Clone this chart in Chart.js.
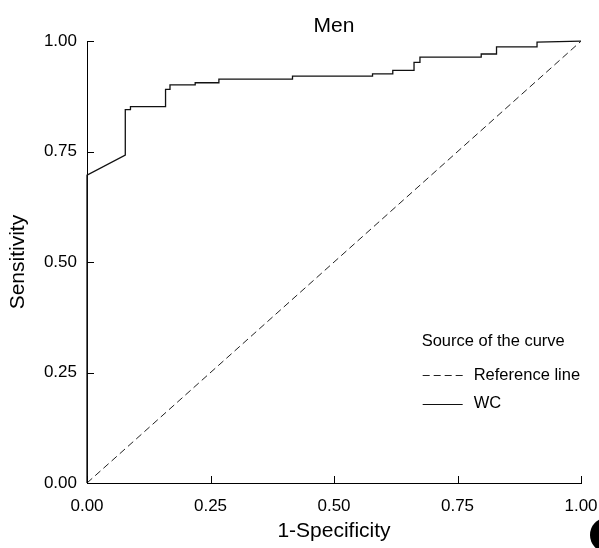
<!DOCTYPE html>
<html>
<head>
<meta charset="utf-8">
<script src="https://cdn.jsdelivr.net/npm/chart.js@4.4.1/dist/chart.umd.min.js"></script>
<style>
html,body{margin:0;padding:0;background:#fff;}
#wrap{width:599px;height:548px;}
</style>
</head>
<body>
<div id="wrap"><canvas id="c" width="599" height="548"></canvas></div>
<script>
// ---- data ----
const chartTitle = "Men";
const xAxisTitle = "1-Specificity";
const yAxisTitle = "Sensitivity";
const legendTitle = "Source of the curve";
const tickValues = [0, 0.25, 0.5, 0.75, 1];
const tickLabels = ["0.00", "0.25", "0.50", "0.75", "1.00"];
const refLabel = "Reference line";
const refX = [0, 1];
const refY = [0, 1];
const wcLabel = "WC";
const wcX = [0, 0, 0.0775, 0.0775, 0.088, 0.088, 0.159, 0.159, 0.168, 0.168, 0.219, 0.219, 0.267, 0.267, 0.416, 0.416, 0.578, 0.578, 0.619, 0.619, 0.662, 0.662, 0.674, 0.674, 0.798, 0.798, 0.829, 0.829, 0.911, 0.911, 1];
const wcY = [0, 0.697, 0.742, 0.845, 0.845, 0.852, 0.852, 0.891, 0.891, 0.901, 0.901, 0.906, 0.906, 0.914, 0.914, 0.921, 0.921, 0.926, 0.926, 0.934, 0.934, 0.952, 0.952, 0.964, 0.964, 0.971, 0.971, 0.987, 0.987, 0.998, 1];

const FAMILY = "'Liberation Sans', Arial, Helvetica, sans-serif";
const tickSize = 17;
const legendSize = 16.5;
const titleSize = 21;

Chart.defaults.font.family = FAMILY;
Chart.defaults.color = "#000";

const toPts = (xs, ys) => xs.map((x, i) => ({x: x, y: ys[i]}));

const inwardTicks = {
  id: 'inwardTicks',
  afterDatasetsDraw(chart) {
    const ctx = chart.ctx, xs = chart.scales.x, ys = chart.scales.y;
    const len = 7;
    ctx.save();
    ctx.strokeStyle = "#000";
    ctx.lineWidth = 1;
    ctx.beginPath();
    tickValues.forEach(v => {
      const px = Math.round(xs.getPixelForValue(v)) + 0.5;
      ctx.moveTo(px, ys.bottom); ctx.lineTo(px, ys.bottom - len);
      const py = Math.round(ys.getPixelForValue(v)) + 0.5;
      ctx.moveTo(xs.left, py); ctx.lineTo(xs.left + len, py);
    });
    ctx.stroke();
    ctx.restore();
  }
};

const customLegend = {
  id: 'customLegend',
  afterDraw(chart) {
    const ctx = chart.ctx, xs = chart.scales.x, ys = chart.scales.y;
    const x0 = xs.getPixelForValue(0.6775);
    const yT = ys.getPixelForValue(0.32);
    ctx.save();
    ctx.fillStyle = "#000";
    ctx.textBaseline = "middle";
    ctx.textAlign = "left";
    ctx.font = legendSize + "px " + FAMILY;
    ctx.fillText(legendTitle, x0, yT);
    chart.data.datasets.forEach((ds, i) => {
      const y = yT + 33.5 + i * 28.5;
      ctx.beginPath();
      ctx.strokeStyle = ds.borderColor;
      ctx.lineWidth = 1;
      ctx.setLineDash(ds.borderDash || []);
      ctx.moveTo(x0 + 1, Math.round(y) + 0.5);
      ctx.lineTo(x0 + 41, Math.round(y) + 0.5);
      ctx.stroke();
      ctx.setLineDash([]);
      ctx.fillText(ds.label, x0 + 52, y);
    });
    // page artifact (black disc at bottom-right corner)
    ctx.beginPath();
    ctx.ellipse(chart.width + 7, chart.height - 13, 16, 17, 0, 0, Math.PI * 2);
    ctx.fillStyle = "#000";
    ctx.fill();
    ctx.restore();
  }
};

new Chart(document.getElementById('c'), {
  type: 'scatter',
  data: {
    datasets: [
      {
        label: refLabel,
        data: toPts(refX, refY),
        showLine: true,
        borderColor: "#222",
        borderWidth: 1,
        borderDash: [7, 4],
        pointRadius: 0,
        fill: false,
        clip: false
      },
      {
        label: wcLabel,
        data: toPts(wcX, wcY),
        showLine: true,
        borderColor: "#111",
        borderWidth: 1.3,
        pointRadius: 0,
        fill: false,
        tension: 0,
        clip: false
      }
    ]
  },
  options: {
    responsive: false,
    animation: false,
    devicePixelRatio: 1,
    layout: { padding: { left: 0, right: 18, top: 0, bottom: 0 } },
    plugins: {
      legend: { display: false },
      tooltip: { enabled: false },
      title: {
        display: true,
        fullSize: false,
        text: chartTitle,
        color: "#000",
        font: { size: titleSize, weight: 'normal', family: FAMILY },
        padding: { top: 14, bottom: 2 }
      }
    },
    scales: {
      x: {
        type: 'linear',
        min: 0, max: 1,
        afterBuildTicks(scale) { scale.ticks = tickValues.map(v => ({value: v})); },
        afterFit(scale) { scale.height = 65; scale.paddingRight = 0; },
        grid: { display: true, drawOnChartArea: false, drawTicks: false },
        border: { display: true, color: "#000", width: 1 },
        ticks: {
          padding: 13,
          color: "#000",
          font: { size: tickSize, family: FAMILY },
          maxRotation: 0,
          callback: (v) => tickLabels[tickValues.indexOf(v)]
        },
        title: {
          display: true,
          text: xAxisTitle,
          color: "#000",
          font: { size: titleSize, family: FAMILY },
          padding: { top: 0, bottom: 4 }
        }
      },
      y: {
        type: 'linear',
        min: 0, max: 1,
        afterBuildTicks(scale) { scale.ticks = tickValues.map(v => ({value: v})); },
        afterFit(scale) { scale.width = 87; },
        grid: { display: true, drawOnChartArea: false, drawTicks: false },
        border: { display: true, color: "#000", width: 1 },
        ticks: {
          padding: 10,
          color: "#000",
          font: { size: tickSize, family: FAMILY },
          callback: (v) => tickLabels[tickValues.indexOf(v)]
        },
        title: {
          display: true,
          text: yAxisTitle,
          color: "#000",
          font: { size: titleSize, family: FAMILY },
          padding: { top: 6, bottom: 0 }
        }
      }
    }
  },
  plugins: [inwardTicks, customLegend]
});
</script>
</body>
</html>
